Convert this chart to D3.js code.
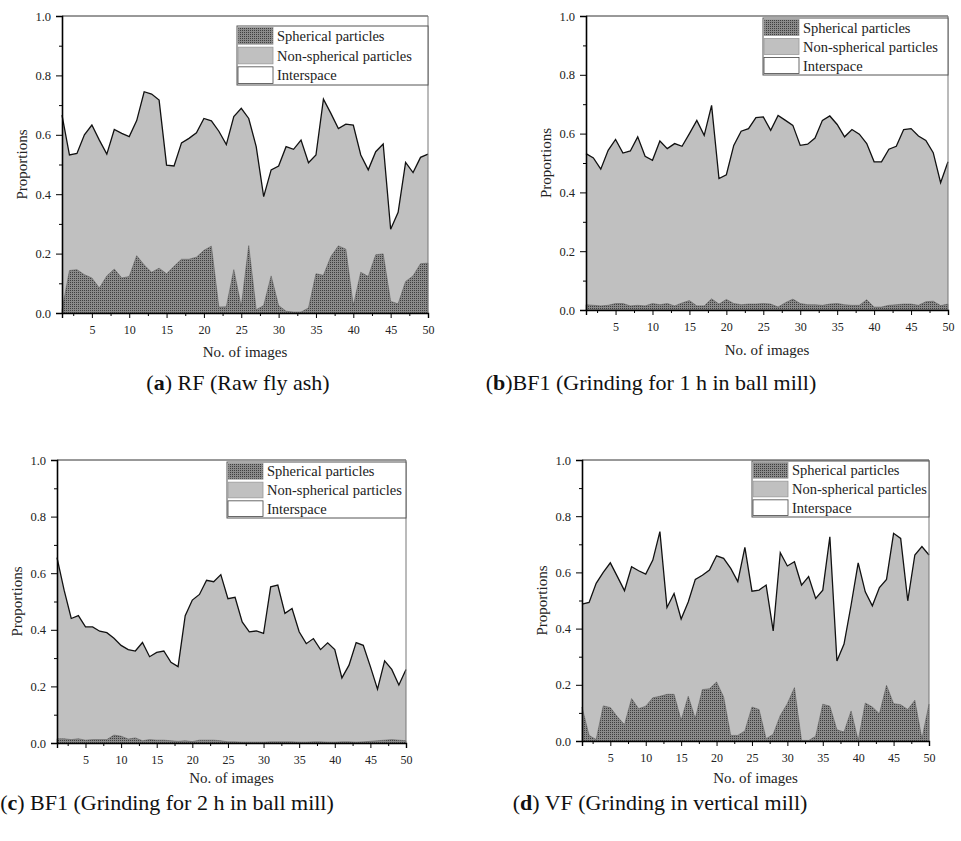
<!DOCTYPE html>
<html>
<head>
<meta charset="utf-8">
<script src="https://cdn.jsdelivr.net/npm/d3@7"></script>
<style>
    body { margin: 0; background: #fff; }
    svg { display: block; }
</style>
</head>
<body>
<div id="container"></div>
<script>
// x = image number, y = proportion
const images = d3.range(1, 51)
const yTicks = [0, 0.2, 0.4, 0.6, 0.8, 1.0]
const xTicks = [5, 10, 15, 20, 25, 30, 35, 40, 45, 50]
const legendLabels = ["Spherical particles", "Non-spherical particles", "Interspace"]

// "solid" = spherical + non-spherical (the black line, 1 - interspace)
const rfSolid = [0.666, 0.532, 0.537, 0.600, 0.633, 0.582, 0.535, 0.618, 0.605, 0.594,
    0.648, 0.745, 0.737, 0.717, 0.498, 0.495, 0.573, 0.588, 0.607, 0.655,
    0.647, 0.612, 0.567, 0.661, 0.689, 0.655, 0.560, 0.392, 0.482, 0.495,
    0.560, 0.551, 0.582, 0.506, 0.532, 0.720, 0.672, 0.621, 0.636, 0.633,
    0.532, 0.482, 0.543, 0.569, 0.282, 0.339, 0.507, 0.473, 0.524, 0.535]
const rfSpherical = [0.010, 0.143, 0.146, 0.129, 0.118, 0.084, 0.125, 0.148, 0.118, 0.123,
    0.193, 0.162, 0.137, 0.151, 0.132, 0.157, 0.181, 0.181, 0.188, 0.211,
    0.225, 0.020, 0.021, 0.146, 0.022, 0.227, 0.011, 0.025, 0.125, 0.025,
    0.006, 0.003, 0.003, 0.017, 0.132, 0.127, 0.190, 0.226, 0.215, 0.025,
    0.137, 0.123, 0.196, 0.199, 0.039, 0.031, 0.106, 0.125, 0.166, 0.168]

const bf1Solid = [0.532, 0.517, 0.479, 0.543, 0.580, 0.534, 0.541, 0.589, 0.523, 0.509,
    0.575, 0.549, 0.566, 0.557, 0.600, 0.645, 0.594, 0.696, 0.447, 0.460,
    0.560, 0.608, 0.617, 0.654, 0.657, 0.611, 0.662, 0.645, 0.628, 0.560,
    0.564, 0.585, 0.645, 0.660, 0.631, 0.589, 0.614, 0.598, 0.566, 0.504,
    0.504, 0.547, 0.557, 0.614, 0.617, 0.592, 0.577, 0.535, 0.433, 0.504]
const bf1Spherical = [0.018, 0.016, 0.014, 0.016, 0.022, 0.022, 0.014, 0.016, 0.014, 0.022,
    0.018, 0.022, 0.014, 0.024, 0.032, 0.014, 0.014, 0.038, 0.020, 0.036,
    0.022, 0.018, 0.020, 0.020, 0.022, 0.020, 0.010, 0.025, 0.037, 0.022,
    0.018, 0.018, 0.016, 0.020, 0.022, 0.018, 0.016, 0.016, 0.035, 0.010,
    0.010, 0.016, 0.018, 0.020, 0.020, 0.016, 0.028, 0.030, 0.015, 0.020]

const bf2Solid = [0.655, 0.540, 0.440, 0.450, 0.410, 0.410, 0.395, 0.390, 0.370, 0.345,
    0.330, 0.325, 0.355, 0.305, 0.320, 0.325, 0.285, 0.270, 0.450, 0.505,
    0.525, 0.575, 0.570, 0.595, 0.510, 0.515, 0.428, 0.393, 0.396, 0.387,
    0.552, 0.558, 0.458, 0.475, 0.393, 0.351, 0.369, 0.330, 0.354, 0.330,
    0.230, 0.275, 0.355, 0.345, 0.270, 0.190, 0.290, 0.260, 0.205, 0.260]
const bf2Spherical = [0.015, 0.015, 0.012, 0.015, 0.010, 0.012, 0.012, 0.012, 0.028, 0.024,
    0.014, 0.018, 0.008, 0.012, 0.010, 0.010, 0.008, 0.006, 0.008, 0.005,
    0.010, 0.010, 0.010, 0.008, 0.004, 0.004, 0.003, 0.003, 0.003, 0.003,
    0.004, 0.004, 0.004, 0.004, 0.003, 0.003, 0.004, 0.004, 0.003, 0.003,
    0.004, 0.004, 0.003, 0.004, 0.006, 0.008, 0.010, 0.012, 0.010, 0.008]

const vfSolid = [0.487, 0.493, 0.561, 0.600, 0.634, 0.585, 0.535, 0.620, 0.606, 0.594,
    0.644, 0.745, 0.475, 0.525, 0.434, 0.495, 0.575, 0.590, 0.608, 0.659,
    0.650, 0.614, 0.567, 0.689, 0.533, 0.537, 0.555, 0.392, 0.670, 0.623,
    0.638, 0.555, 0.585, 0.507, 0.537, 0.727, 0.285, 0.345, 0.484, 0.634,
    0.531, 0.481, 0.546, 0.575, 0.739, 0.721, 0.499, 0.662, 0.692, 0.662]
const vfSpherical = [0.121, 0.020, 0.005, 0.125, 0.119, 0.086, 0.058, 0.151, 0.115, 0.124,
    0.154, 0.159, 0.166, 0.166, 0.074, 0.159, 0.080, 0.183, 0.186, 0.210,
    0.157, 0.020, 0.020, 0.036, 0.121, 0.112, 0.008, 0.024, 0.091, 0.133,
    0.190, 0.002, 0.002, 0.017, 0.131, 0.124, 0.040, 0.032, 0.107, 0.002,
    0.135, 0.121, 0.097, 0.198, 0.133, 0.129, 0.112, 0.145, 0.008, 0.131]

// layout of the four panels (pixel boxes)
const panels = [
    { solid: rfSolid, sph: rfSpherical, l: 62, r: 428, t: 16, b: 313,
      leg: [237, 26, 85], xLab: 357, cap: ["a", ") RF (Raw fly ash)"], capX: 238, capY: 390 },
    { solid: bf1Solid, sph: bf1Spherical, l: 586, r: 948, t: 16, b: 310,
      leg: [763, 18, 75], xLab: 355, cap: ["b", ")BF1 (Grinding for 1 h in ball mill)"], capX: 651, capY: 390 },
    { solid: bf2Solid, sph: bf2Spherical, l: 57, r: 406, t: 460, b: 743,
      leg: [227, 462, 518], xLab: 783, cap: ["c", ") BF1 (Grinding for 2 h in ball mill)"], capX: 167, capY: 810 },
    { solid: vfSolid, sph: vfSpherical, l: 582, r: 929, t: 460, b: 741,
      leg: [752, 461, 517], xLab: 783, cap: ["d", ") VF (Grinding in vertical mill)"], capX: 660, capY: 810 },
]

const font = "'Liberation Serif', 'Times New Roman', serif"
const sphFill = "url(#dots)"
const nonFill = "#c0c0c0"

const svg = d3.select("#container")
    .append("svg")
    .attr("width", 961)
    .attr("height", 841)
    .style("background-color", "white")

const pat = svg.append("defs").append("pattern")
    .attr("id", "dots")
    .attr("width", 2)
    .attr("height", 2)
    .attr("patternUnits", "userSpaceOnUse")
pat.append("rect").attr("width", 2).attr("height", 2).attr("fill", "#8a8a8a")
pat.append("rect").attr("width", 1).attr("height", 1).attr("fill", "#3e3e3e")

function drawPanel(p) {
    const g = svg.append("g")
    const x = d3.scaleLinear().domain([1, 50]).range([p.l, p.r])
    const y = d3.scaleLinear().domain([0, 1]).range([p.b, p.t])

    // non-spherical area goes up to the solid line, spherical drawn over it
    const areaSolid = d3.area()
        .x((d, i) => x(images[i]))
        .y0(y(0))
        .y1(d => y(d))
    g.append("path")
        .datum(p.solid)
        .attr("d", areaSolid)
        .attr("fill", nonFill)
    g.append("path")
        .datum(p.sph)
        .attr("d", areaSolid)
        .attr("fill", sphFill)
        .attr("stroke", "#555")
        .attr("stroke-width", 0.5)

    const line = d3.line()
        .x((d, i) => x(images[i]))
        .y(d => y(d))
    g.append("path")
        .datum(p.solid)
        .attr("d", line)
        .attr("fill", "none")
        .attr("stroke", "#111")
        .attr("stroke-width", 1.3)

    // frame: top and right thin
    g.append("line").attr("x1", p.l).attr("x2", p.r).attr("y1", p.t).attr("y2", p.t)
        .attr("stroke", "#333").attr("stroke-width", 1)
    g.append("line").attr("x1", p.r).attr("x2", p.r).attr("y1", p.t).attr("y2", p.b)
        .attr("stroke", "#777").attr("stroke-width", 1)

    const yAxis = d3.axisLeft(y)
        .tickValues(yTicks)
        .tickFormat(d3.format(".1f"))
        .tickSize(6)
        .tickPadding(5)
    const yAx = g.append("g")
        .attr("transform", `translate(${p.l}, 0)`)
        .call(yAxis)
    yAx.select(".domain").attr("stroke-width", 1.6).attr("stroke", "#000")
    yAx.selectAll("text").style("font-family", font).style("font-size", "12.5px").attr("fill", "#222")
    const yMinor = d3.axisLeft(y).tickValues([0.1, 0.3, 0.5, 0.7, 0.9]).tickSize(3).tickFormat("")
    g.append("g").attr("transform", `translate(${p.l}, 0)`).call(yMinor)
        .select(".domain").remove()

    const xAxis = d3.axisBottom(x)
        .tickValues(xTicks)
        .tickSize(5)
        .tickPadding(7)
    const xAx = g.append("g")
        .attr("transform", `translate(0, ${p.b})`)
        .call(xAxis)
    xAx.select(".domain").attr("stroke-width", 1.4).attr("stroke", "#000")
    xAx.selectAll("text").style("font-family", font).style("font-size", "12px").attr("fill", "#222")
    const xMinor = d3.axisBottom(x).tickValues(d3.range(2.5, 50, 5)).tickSize(3).tickFormat("")
    g.append("g").attr("transform", `translate(0, ${p.b})`).call(xMinor)
        .select(".domain").remove()

    // axis titles
    g.append("text")
        .attr("transform", `translate(${p.l - 35}, ${(p.t + p.b) / 2}) rotate(-90)`)
        .attr("text-anchor", "middle")
        .style("font-family", font)
        .style("font-size", "15px")
        .attr("fill", "#222")
        .text("Proportions")
    g.append("text")
        .attr("x", (p.l + p.r) / 2)
        .attr("y", p.xLab)
        .attr("text-anchor", "middle")
        .style("font-family", font)
        .style("font-size", "15px")
        .attr("fill", "#222")
        .text("No. of images")

    // legend
    const [lx, ly0, ly1] = p.leg
    const rowH = (ly1 - ly0) / 3
    const leg = g.append("g")
    leg.append("rect")
        .attr("x", lx).attr("y", ly0)
        .attr("width", p.r - lx).attr("height", ly1 - ly0)
        .attr("fill", "white").attr("stroke", "#555").attr("stroke-width", 1)
    const fills = [sphFill, nonFill, "white"]
    legendLabels.forEach((lab, i) => {
        leg.append("rect")
            .attr("x", lx + 1).attr("y", ly0 + i * rowH + 1.5)
            .attr("width", 35).attr("height", rowH - 3)
            .attr("fill", fills[i])
            .attr("stroke", i === 2 ? "#444" : "#999").attr("stroke-width", 0.8)
        leg.append("text")
            .attr("x", lx + 40)
            .attr("y", ly0 + (i + 0.5) * rowH + 5)
            .style("font-family", font)
            .style("font-size", "14.5px")
            .attr("fill", "#222")
            .text(lab)
    })

    // caption
    const cap = svg.append("text")
        .attr("x", p.capX)
        .attr("y", p.capY)
        .attr("text-anchor", "middle")
        .style("font-family", font)
        .style("font-size", "22px")
        .attr("fill", "#111")
    cap.append("tspan").text("(")
    cap.append("tspan").attr("font-weight", "bold").text(p.cap[0])
    cap.append("tspan").text(p.cap[1])
}

panels.forEach(drawPanel)
</script>
</body>
</html>
